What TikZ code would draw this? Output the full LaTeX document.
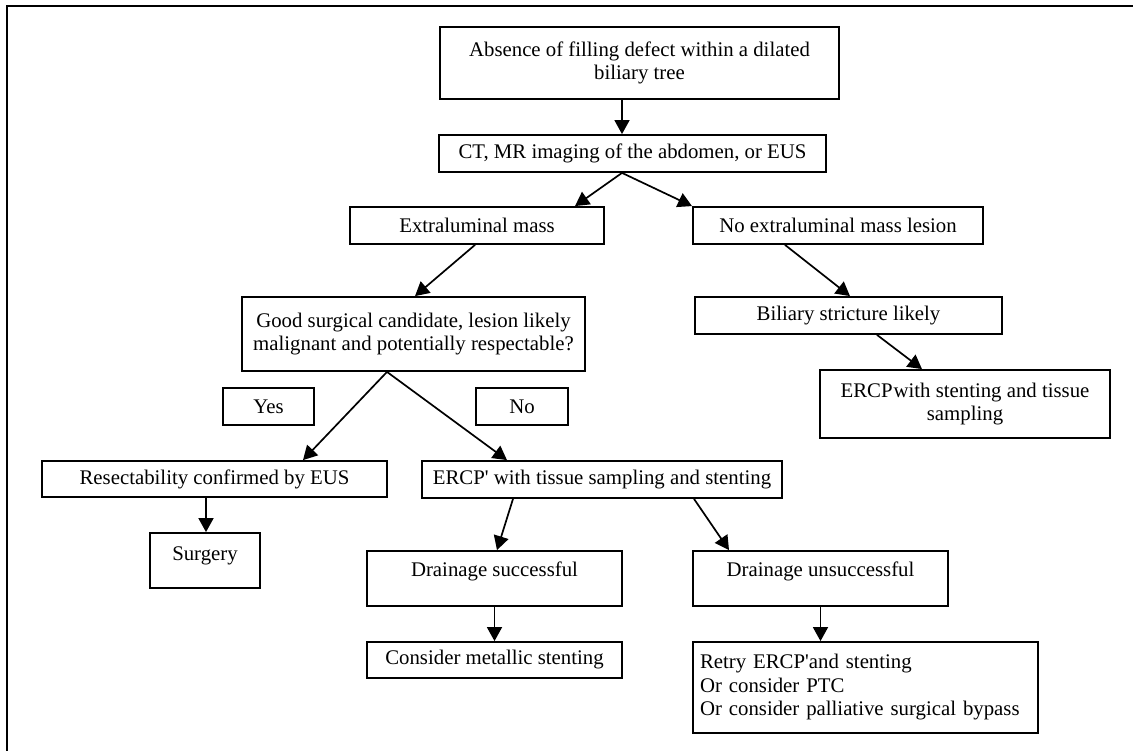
\documentclass[tikz,border=0pt]{standalone}
\usepackage{fontspec}
\setmainfont{Liberation Serif}
\usetikzlibrary{arrows.meta}
\tikzset{
  box/.style={draw, line width=1.8pt, inner sep=0pt, align=center,
    font=\fontsize{20.8}{23.5}\selectfont},
  conn/.style={line width=1.7pt, -{Triangle[length=14pt,width=15pt]}},
  frame/.style={line width=2.2pt}
}
\newcommand{\tick}{\textquotesingle}
\begin{document}
\begin{tikzpicture}[x=1pt,y=-1pt]
\useasboundingbox (0,0) rectangle (1133,751);
\draw[frame] (7,751) -- (7,6) -- (1133,6);

\node[box, minimum width=399, minimum height=72] (top) at (639.5,63)
  {Absence of filling defect within a dilated\\biliary tree};
\node[box, minimum width=387, minimum height=37] (ct) at (632.5,153.5)
  {CT, MR imaging of the abdomen, or EUS};
\node[box, minimum width=254, minimum height=37] (extr) at (477,225.5)
  {Extraluminal mass};
\node[box, minimum width=290, minimum height=37] (noextr) at (838,225.5)
  {No extraluminal mass lesion};
\node[box, minimum width=343, minimum height=74] (good) at (413.5,334)
  {Good surgical candidate, lesion likely\\malignant and potentially respectable?};
\node[box, minimum width=307, minimum height=37] (biliary) at (848.5,315.5)
  {Biliary stricture likely};
\node[box, minimum width=290, minimum height=68] (ercps) at (965,404)
  {ERCP\kern1pt with stenting and tissue\\sampling};
\node[box, minimum width=91, minimum height=37] (yes) at (268.5,406.5) {Yes};
\node[box, minimum width=92, minimum height=37] (no) at (522,406.5) {No};
\node[box, minimum width=345, minimum height=36] (resect) at (214.5,479)
  {Resectability confirmed by EUS};
\node[box, minimum width=360, minimum height=37] (ercpt) at (602,479.5)
  {ERCP\tick\ with tissue sampling and stenting};
\node[box, minimum width=110, text height=27pt, text depth=28pt] (surgery) at (205,560.5)
  {Surgery};
\node[box, minimum width=255, text height=25.5pt, text depth=29.5pt] (ds) at (494.5,578.5)
  {Drainage successful};
\node[box, minimum width=255, minimum height=36] (cms) at (494.5,660)
  {Consider metallic stenting};
\node[box, minimum width=255, text height=25.5pt, text depth=29.5pt] (du) at (820.5,578.5)
  {Drainage unsuccessful};
\node[box, minimum width=345, minimum height=91, inner xsep=7pt, text width=331pt, align=left] (retry) at (865.5,687.5)
  {Retry ERCP\tick and stenting\\Or consider PTC\\Or consider palliative surgical bypass};

\draw[conn] ([xshift=-17.5pt]top.south) -- ([xshift=-10.5pt]ct.north);
\draw[conn] ([xshift=-10.5pt]ct.south) -- ([xshift=98pt]extr.north);
\draw[conn] ([xshift=-10.5pt]ct.south) -- ([xshift=-146pt]noextr.north);
\draw[conn] ([xshift=-2pt]extr.south) -- ([xshift=1.5pt]good.north);
\draw[conn] ([xshift=-53pt]noextr.south) -- ([xshift=1.5pt]biliary.north);
\draw[conn] ([xshift=28.5pt]biliary.south) -- ([xshift=-43pt]ercps.north);
\draw[conn] ([xshift=-26.5pt]good.south) -- ([xshift=88.5pt]resect.north);
\draw[conn] ([xshift=-26.5pt]good.south) -- ([xshift=-95pt]ercpt.north);
\draw[conn] ([xshift=-8.5pt]resect.south) -- ([xshift=1pt]surgery.north);
\draw[conn] ([xshift=-89pt]ercpt.south) -- ([xshift=2.5pt]ds.north);
\draw[conn] ([xshift=92pt]ercpt.south) -- ([xshift=-91.5pt]du.north);
\draw[conn] (ds.south) -- (cms.north);
\draw[conn] (du.south) -- ([xshift=-45pt]retry.north);
\end{tikzpicture}
\end{document}
